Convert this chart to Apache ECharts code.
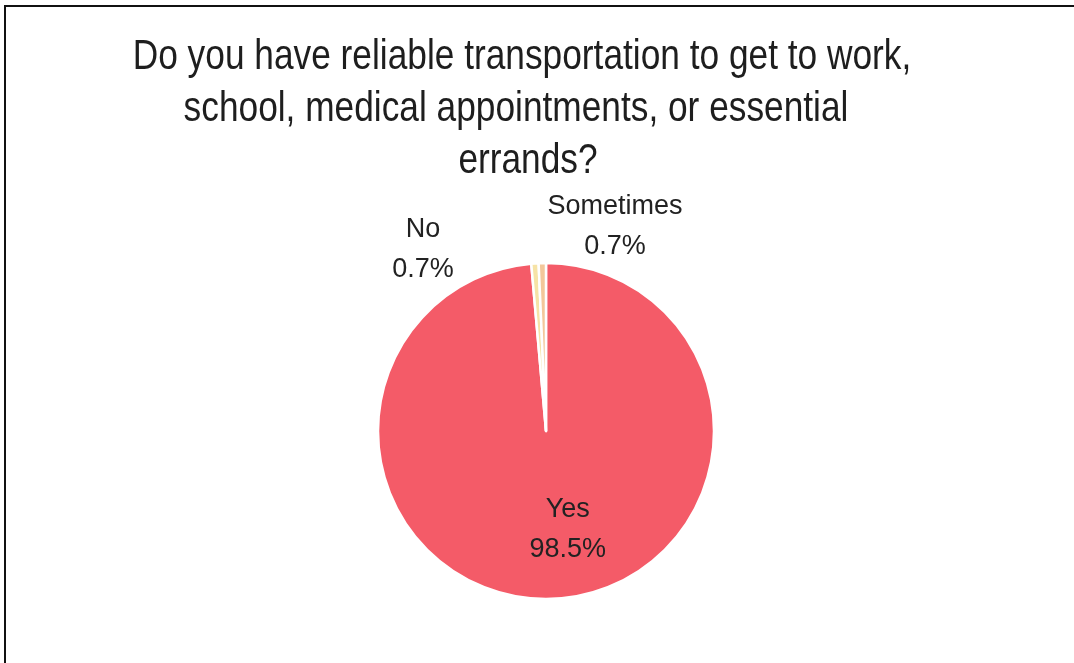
<!DOCTYPE html>
<html>
<head>
<meta charset="utf-8">
<script src="https://cdn.jsdelivr.net/npm/echarts@6/dist/echarts.min.js"></script>
<style>
  html, body { margin: 0; padding: 0; background: #fff; }
  #chart { width: 1074px; height: 663px; }
</style>
</head>
<body>
<div id="chart"></div>
<script>
// Survey answers and their shares (percent)
const answers = ['Yes', 'No', 'Sometimes'];
const shares = [98.5, 0.7, 0.7];
const sliceColors = ['#f45b68', '#f6e3a6', '#f3c79a'];
const titleLines = [
  'Do you have reliable transportation to get to work,',
  'school, medical appointments, or essential',
  'errands?'
];

const FONT = "'Liberation Sans', Arial, sans-serif";
const PIE_CENTER = [546, 431];

// Label placement around the pie, relative to its centre
const labelShift = [null, [-123, -181], [69, -204]];

const chart = echarts.init(document.getElementById('chart'), null, { renderer: 'canvas' });

const pieData = answers.map((name, i) => ({
  name: name,
  value: shares[i],
  itemStyle: { color: sliceColors[i] },
  label: i === 0 ? { position: 'inside', offset: [18, 12] } : { position: 'outside' }
}));

// Condensed title lines (horizontally squeezed sans-serif)
const titleShiftX = [-24, -30, -18];
const titleGraphics = titleLines.map((line, i) => ({
  type: 'text',
  x: PIE_CENTER[0] + titleShiftX[i],
  y: 36 + i * 52,
  scaleX: 0.84,
  style: {
    text: line,
    font: '42px ' + FONT,
    fill: '#1e1e1e',
    textAlign: 'center',
    textVerticalAlign: 'top'
  }
}));

chart.setOption({
  backgroundColor: '#ffffff',
  animation: false,
  graphic: [
    { type: 'line', shape: { x1: 4, y1: 6, x2: 1074, y2: 6 }, style: { stroke: '#111', lineWidth: 2 } },
    { type: 'line', shape: { x1: 5, y1: 5, x2: 5, y2: 663 }, style: { stroke: '#111', lineWidth: 2 } }
  ].concat(titleGraphics),
  series: [{
    type: 'pie',
    center: PIE_CENTER,
    radius: 168,
    startAngle: 90,
    clockwise: true,
    avoidLabelOverlap: false,
    itemStyle: { borderColor: '#ffffff', borderWidth: 2.5 },
    label: {
      show: true,
      formatter: p => p.name + '\n' + p.value.toFixed(1) + '%',
      fontFamily: FONT,
      fontSize: 27,
      lineHeight: 40,
      color: '#222',
      align: 'center'
    },
    labelLine: { show: false },
    labelLayout: function (params) {
      const s = labelShift[params.dataIndex];
      if (!s) return { hideOverlap: false };
      return {
        x: PIE_CENTER[0] + s[0],
        y: PIE_CENTER[1] + s[1],
        align: 'center',
        verticalAlign: 'middle',
        hideOverlap: false,
        moveOverlap: null
      };
    },
    data: pieData
  }]
});
</script>
</body>
</html>
